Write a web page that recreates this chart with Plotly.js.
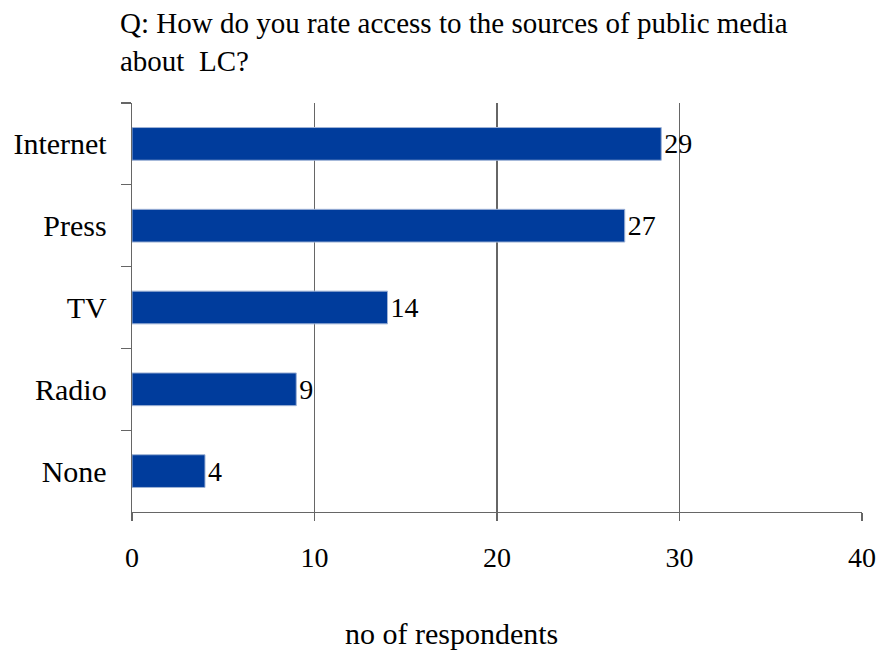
<!DOCTYPE html>
<html><head><meta charset="utf-8">
<script src="https://cdn.plot.ly/plotly-3.0.1.min.js"></script>
<style>html,body{margin:0;padding:0;background:#fff;}</style>
</head><body>
<div id="chart" style="width:877px;height:650px;"></div>
<script>
const categories = ["Internet", "Press", "TV", "Radio", "None"];
const respondents = [29, 27, 14, 9, 4];
const xTicks = [0, 10, 20, 30, 40];
const titleText = "Q: How do you rate access to the sources of public media<br>about  LC?";
const xTitle = "no of respondents";

const font = "Liberation Serif, Times New Roman, serif";
const trace = {
  type: "bar", orientation: "h",
  y: categories, x: respondents,
  text: respondents.map(String), textposition: "outside",
  textfont: {family: font, size: 28, color: "#000"},
  cliponaxis: false,
  width: 0.4,
  marker: {color: "#003C9C", line: {color: "#9fb3d6", width: 1}},
  hoverinfo: "skip"
};
const layout = {
  width: 877, height: 650,
  margin: {l: 132, r: 15, t: 103, b: 138},
  paper_bgcolor: "#fff", plot_bgcolor: "#fff",
  showlegend: false,
  annotations: [
    {text: titleText, showarrow: false, align: "left",
      xref: "paper", yref: "paper", x: (118 - 132) / 730, xanchor: "left",
      y: 1 + (103 - 5) / 409, yanchor: "top",
      font: {family: font, size: 29, color: "#000"}},
    {text: xTitle, showarrow: false,
      xref: "paper", yref: "paper", x: (451 - 132) / 730, xanchor: "center",
      y: (512 - 633) / 409, yanchor: "middle",
      font: {family: font, size: 30, color: "#000"}}
  ],
  xaxis: {range: [0, 40], tickvals: xTicks, ticktext: xTicks.map(String),
    showgrid: true, gridcolor: "#666", gridwidth: 1.3, zeroline: false,
    showline: true, linecolor: "#666", linewidth: 1.3,
    ticks: "outside", ticklen: 8, tickcolor: "#666", tickwidth: 1.3,
    ticklabelstandoff: 12,
    tickfont: {family: font, size: 28, color: "#000"},
    fixedrange: true},
  yaxis: {autorange: "reversed", type: "category",
    showline: true, linecolor: "#666", linewidth: 1.3,
    ticks: "outside", tickson: "boundaries", ticklen: 10, tickcolor: "#666", tickwidth: 1.3,
    ticklabelstandoff: 18,
    tickfont: {family: font, size: 30, color: "#000"},
    showgrid: false, fixedrange: true}
};
Plotly.newPlot("chart", [trace], layout, {displayModeBar: false, staticPlot: true});
</script>
</body></html>
